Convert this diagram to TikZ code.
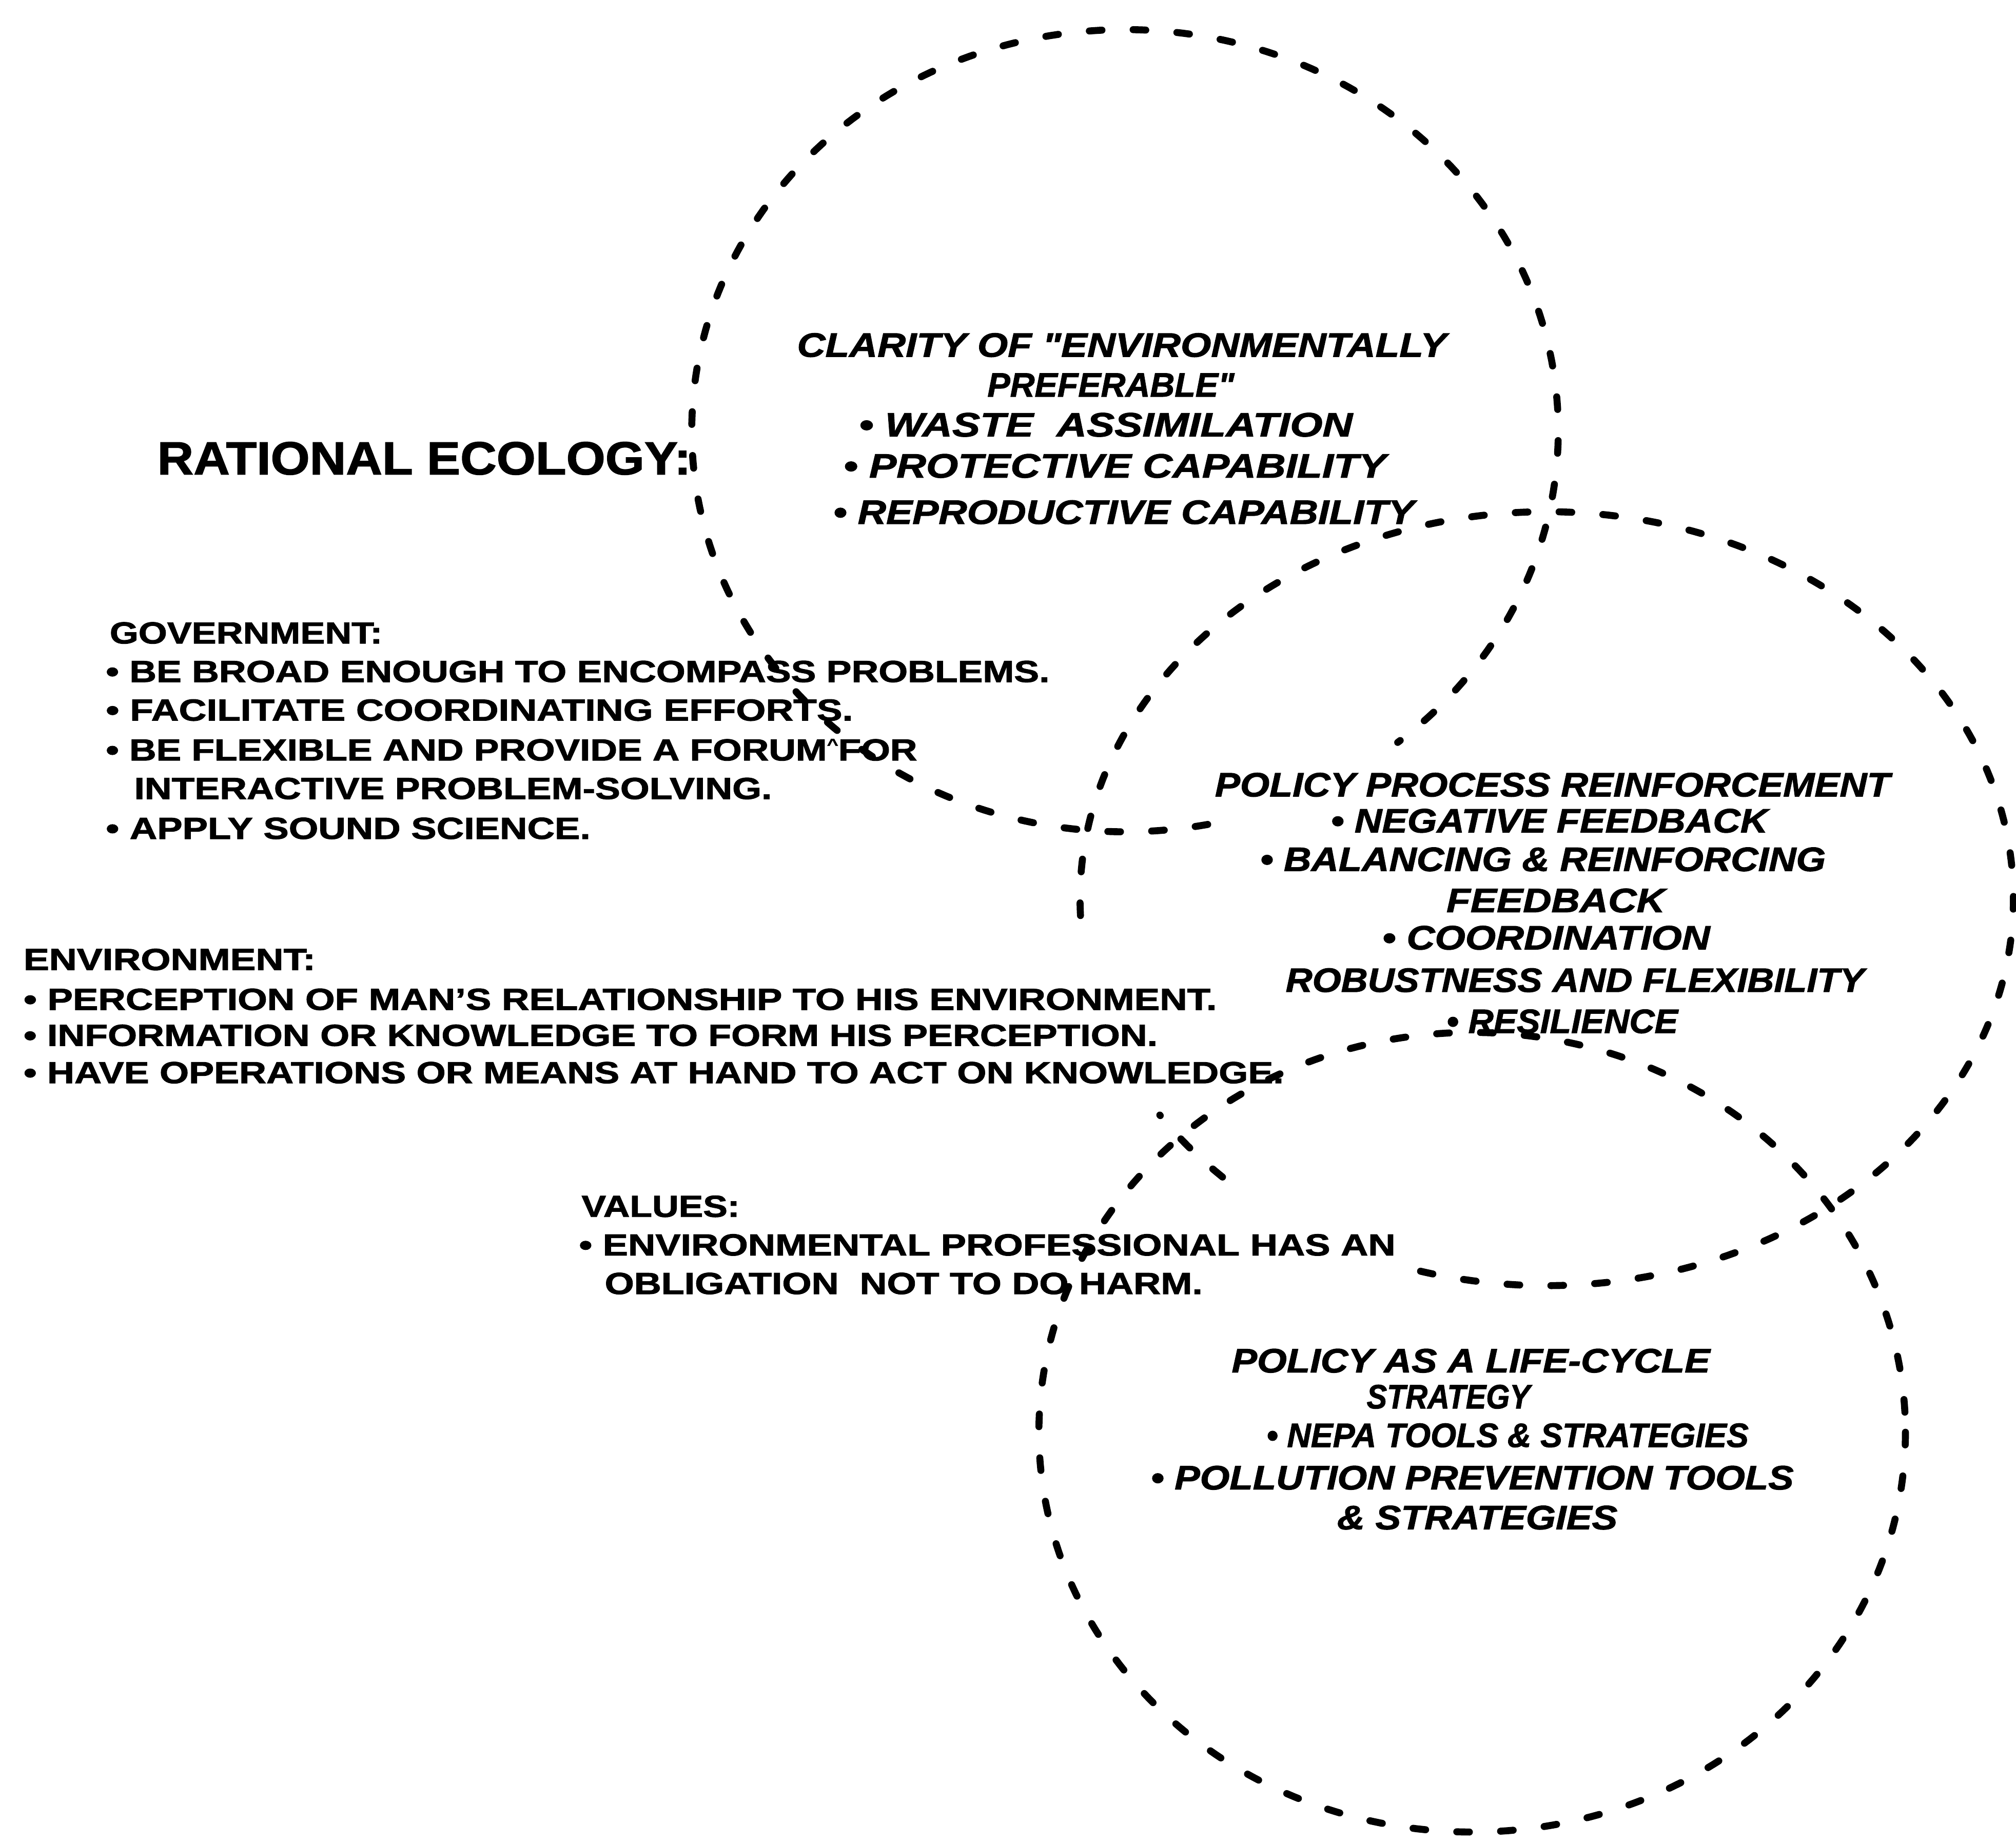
\documentclass[tikz,border=0pt]{standalone}
\usepackage{fontspec}
\setmainfont{Liberation Sans}[BoldFeatures={FakeBold=1.6},BoldItalicFeatures={FakeBold=1.6}]
\usepackage{graphicx}
\newlength\pxu
\setlength\pxu{0.02cm}
% set one line of text to a fixed width, keeping its height
\newcommand\fitto[2]{\resizebox{#1\pxu}{\height}{#2}}

\begin{document}
\begin{tikzpicture}[x=0.02cm,y=-0.02cm,
  ring/.style={draw=black, line width=3.1pt, line cap=round, dash pattern=on 5.6pt off 13.8pt},
  plain/.style={inner sep=0pt, anchor=base west, font=\bfseries\fontsize{13.5}{16}\selectfont},
  title/.style={inner sep=0pt, anchor=base west, font=\bfseries\fontsize{20.6}{24}\selectfont},
  slant/.style={inner sep=0pt, anchor=base, font=\bfseries\itshape\fontsize{15}{18}\selectfont}]
\fill[white] (0,0) rectangle (1568,1434);
\useasboundingbox (0,0) rectangle (1568,1434);

% centres of the three dashed rings
\coordinate (c1) at (875,335);
\coordinate (c2) at (1203,699);
\coordinate (c3) at (1145,1114);

% upper ring, open at the lower right
\draw[ring] plot[domain=79:411,samples=300] ({875+337*cos(\x)},{335+312*sin(\x)});
% right ring, open where the left-hand text runs across it
\draw[ring] plot[domain=177.5:468,samples=300] ({1203+363*cos(\x)},{699+301*sin(\x)});
\draw[ring] plot[domain=134:146,samples=20] ({1203+363*cos(\x)},{699+301*sin(\x)});
% lower ring
\draw[ring] plot[domain=0:360,samples=360] ({1145+337*cos(\x)},{1114+311*sin(\x)});

% heading
\node[title] (head) at (122,369) {\fitto{415}{RATIONAL ECOLOGY:}};

% left-hand lists
\foreach \nm/\xx/\yy/\ww/\txt in {
  gov0/85/500.5/212/{GOVERNMENT:},
  gov1/82/530.5/734/{\textbullet\ BE BROAD ENOUGH TO ENCOMPASS PROBLEMS.},
  gov2/82/560.5/581/{\textbullet\ FACILITATE COORDINATING EFFORTS.},
  gov3/82/591.5/631/{\textbullet\ BE FLEXIBLE AND PROVIDE A FORUM\raisebox{0.35em}{\scriptsize\textasciicircum}FOR},
  gov4/104/621.5/496/{INTERACTIVE PROBLEM-SOLVING.},
  gov5/82/652.5/377/{\textbullet\ APPLY SOUND SCIENCE.},
  env0/18/754.5/227/{ENVIRONMENT:},
  env1/18/785.5/928/{\textbullet\ PERCEPTION OF MAN'S RELATIONSHIP TO HIS ENVIRONMENT.},
  env2/18/813.5/882/{\textbullet\ INFORMATION OR KNOWLEDGE TO FORM HIS PERCEPTION.},
  env3/18/842.5/980/{\textbullet\ HAVE OPERATIONS OR MEANS AT HAND TO ACT ON KNOWLEDGE.},
  val0/452/946.5/123/{VALUES:},
  val1/450/976.5/635/{\textbullet\ ENVIRONMENTAL PROFESSIONAL HAS AN},
  val2/470/1006.5/465/{OBLIGATION\ \ NOT TO DO HARM.}}
  {\node[plain] (\nm) at (\xx,\yy) {\fitto{\ww}{\txt}};}

% texts inside the rings
\foreach \nm/\xx/\yy/\ww/\txt in {
  ra0/872.5/277.5/505/{CLARITY OF \textquotedbl ENVIRONMENTALLY},
  ra1/864/308.5/192/{PREFERABLE\textquotedbl},
  ra2/860/339.5/384/{\textbullet\ WASTE\ \ ASSIMILATION},
  ra3/867/371.5/422/{\textbullet\ PROTECTIVE CAPABILITY},
  ra4/874/407.5/452/{\textbullet\ REPRODUCTIVE CAPABILITY},
  rb0/1207.5/619.5/525/{POLICY PROCESS REINFORCEMENT},
  rb1/1205/647.5/340/{\textbullet\ NEGATIVE FEEDBACK},
  rb2/1200/677.5/440/{\textbullet\ BALANCING \& REINFORCING},
  rb3/1210/709.5/170/{FEEDBACK},
  rb4/1202.5/738.5/255/{\textbullet\ COORDINATION},
  rb5/1225/771.5/450/{ROBUSTNESS AND FLEXIBILITY},
  rb6/1215/803.5/180/{\textbullet\ RESILIENCE},
  rc0/1144/1067.5/372/{POLICY AS A LIFE-CYCLE},
  rc1/1126.5/1095.5/127/{STRATEGY},
  rc2/1172.5/1125.5/375/{\textbullet\ NEPA TOOLS \& STRATEGIES},
  rc3/1145/1158.5/500/{\textbullet\ POLLUTION PREVENTION TOOLS},
  rc4/1149/1189.5/218/{\& STRATEGIES}}
  {\node[slant] (\nm) at (\xx,\yy) {\fitto{\ww}{\txt}};}
\end{tikzpicture}
\end{document}
